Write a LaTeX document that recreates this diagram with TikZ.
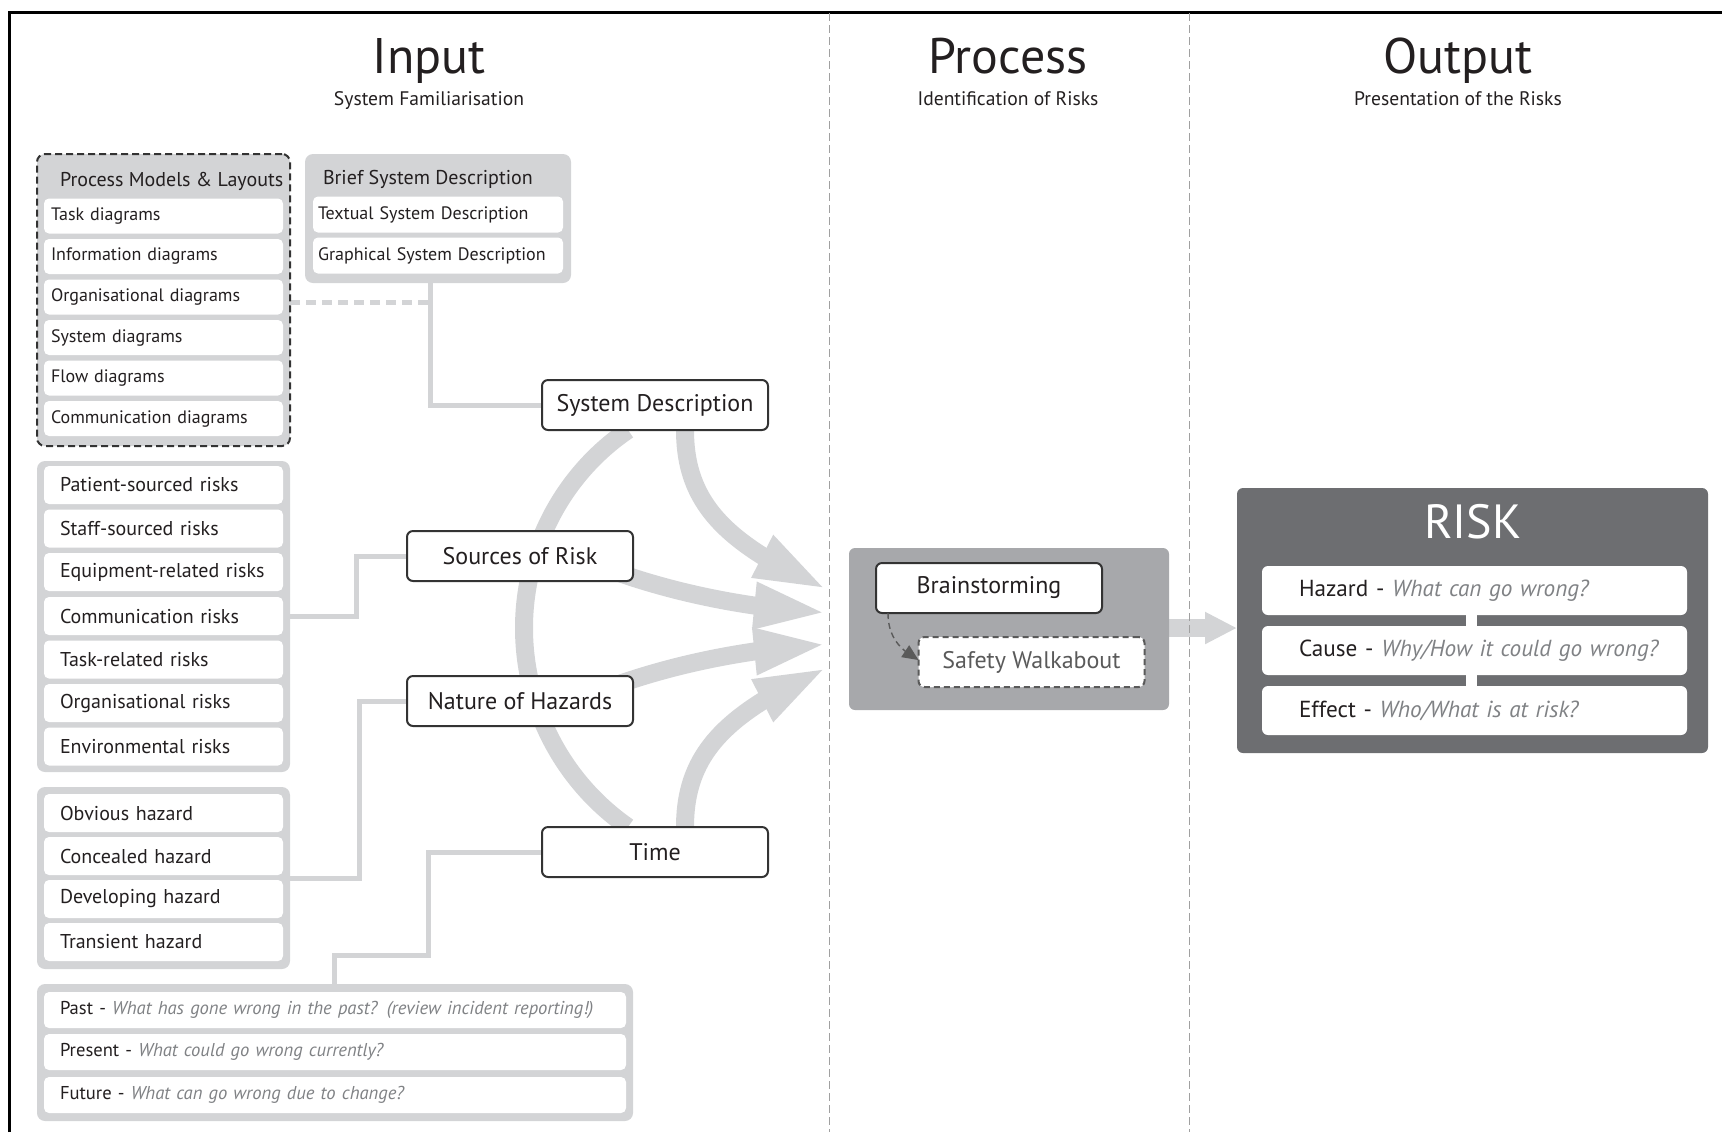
\documentclass[tikz,border=0pt]{standalone}
\usepackage{fontspec}
\setmainfont{PT Sans}
\usetikzlibrary{arrows.meta,bending,calc}
\pgfdeclarelayer{bg}
\pgfsetlayers{bg,main}
\definecolor{cGrp}{HTML}{D3D4D6}
\definecolor{cProc}{HTML}{A7A8AB}
\definecolor{cRisk}{HTML}{6D6E71}
\definecolor{cTxt}{HTML}{231F20}
\definecolor{cIt}{HTML}{808285}
\definecolor{cBorder}{HTML}{333333}
\definecolor{cSep}{HTML}{A0A0A0}
\definecolor{cDash}{HTML}{5A5A5A}
\newcommand{\fsz}[1]{\fontsize{#1}{1.2\dimexpr #1pt\relax}\selectfont}
\begin{document}
\begin{tikzpicture}[x=0.5pt,y=-0.5pt,
  every node/.style={inner sep=0pt, outer sep=0pt, text=cTxt},
  grp/.style={fill=cGrp, rounded corners=4pt},
  itemA/.style={fill=white, rounded corners=2.5pt, minimum height=17.5pt, text width=112.5pt, inner xsep=3.5pt, align=left, font=\fsz{9}},
  itemBr/.style={fill=white, rounded corners=2.5pt, minimum height=18pt, text width=120pt, inner xsep=2.5pt, align=left, font=\fsz{9}},
  itemB/.style={fill=white, rounded corners=2.5pt, minimum height=19pt, text width=103.5pt, inner xsep=8pt, align=left, font=\fsz{10}},
  itemT/.style={fill=white, rounded corners=2.5pt, minimum height=18pt, text width=275pt, inner xsep=8pt, align=left, font=\fsz{9.3}},
  itemR/.style={fill=white, rounded corners=3pt, minimum height=24.5pt, text width=175.5pt, inner xsep=18.5pt, align=left, font=\fsz{11.6}},
  mainbox/.style={draw=cBorder, line width=1pt, fill=white, rounded corners=3pt, minimum width=113pt, minimum height=25pt, font=\fsz{12}},
  conn/.style={draw=cGrp, line width=2.5pt},
  bigarrow/.style={draw=cGrp, line width=9pt, -{Triangle[length=37pt,width=21pt]}},
  sepline/.style={draw=cSep, line width=0.5pt, dash pattern=on 4pt off 2pt},
  title/.style={anchor=base, font=\fsz{25}},
  subtitle/.style={anchor=base, font=\fsz{9.8}},
  hdr/.style={anchor=west, font=\fsz{10}}
]
\useasboundingbox (0,0) rectangle (1722,1132);

% frame and separators
\draw[line width=1.5pt, black] (9,1132) -- (9,12) -- (1722,12);
\draw[sepline] (829,13) -- (829,1132);
\draw[sepline] (1189,13) -- (1189,1132);

% titles
\node[title] (tIn) at (429,73) {Input};
\node[subtitle] (sIn) at (429,105) {System Familiarisation};
\node[title] (tPr) at (1008,73) {Process};
\node[subtitle] (sPr) at (1008,105) {Identification of Risks};
\node[title] (tOut) at (1458,73) {Output};
\node[subtitle] (sOut) at (1458,105) {Presentation of the Risks};

% Process Models & Layouts group
\node[grp, draw=cBorder, line width=1pt, dash pattern=on 3.5pt off 2pt, minimum width=126.5pt, minimum height=146pt] (pm) at (163.5,300) {};
\node[hdr] (pmh) at (60,181) {Process Models \& Layouts};
\node[itemA] (pm1) at (163.5,216) {Task diagrams};
\node[itemA] (pm2) at (163.5,256.5) {Information diagrams};
\node[itemA] (pm3) at (163.5,297) {Organisational diagrams};
\node[itemA] (pm4) at (163.5,337.5) {System diagrams};
\node[itemA] (pm5) at (163.5,378) {Flow diagrams};
\node[itemA] (pm6) at (163.5,418.5) {Communication diagrams};

% Brief System Description group
\node[grp, minimum width=133pt, minimum height=64.5pt] (brief) at (438,218.5) {};
\node[hdr] (briefh) at (323,179) {Brief System Description};
\node[itemBr] (br1) at (438,214.5) {Textual System Description};
\node[itemBr] (br2) at (438,255.5) {Graphical System Description};

% Risk sources group
\node[grp, minimum width=126.5pt, minimum height=155.5pt] (grpRisk) at (163.5,616.5) {};
\node[itemB] (r1) at (163.5,485) {Patient-sourced risks};
\node[itemB] (r2) at (163.5,528.5) {Staff-sourced risks};
\node[itemB] (r3) at (163.5,572) {Equipment-related risks};
\node[itemB] (r4) at (163.5,616) {Communication risks};
\node[itemB] (r5) at (163.5,659.5) {Task-related risks};
\node[itemB] (r6) at (163.5,703) {Organisational risks};
\node[itemB] (r7) at (163.5,746.5) {Environmental risks};

% Hazards group
\node[grp, minimum width=126.5pt, minimum height=91pt] (grpHaz) at (163.5,878) {};
\node[itemB] (h1) at (163.5,813) {Obvious hazard};
\node[itemB] (h2) at (163.5,856) {Concealed hazard};
\node[itemB] (h3) at (163.5,899) {Developing hazard};
\node[itemB] (h4) at (163.5,942) {Transient hazard};

% Time group
\node[grp, minimum width=298pt, minimum height=68.5pt] (grpTime) at (335,1052.5) {};
\node[itemT] (tm1) at (335,1010) {\mbox{Past - {\itshape\color{cIt}What has gone wrong in the past? (review incident reporting!)}}};
\node[itemT] (tm2) at (335,1052) {\mbox{Present - {\itshape\color{cIt}What could go wrong currently?}}};
\node[itemT] (tm3) at (335,1095) {\mbox{Future - {\itshape\color{cIt}What can go wrong due to change?}}};

% main nodes
\node[mainbox] (sd) at (655,405) {System Description};
\node[mainbox] (src) at (520,556) {Sources of Risk};
\node[mainbox] (nat) at (520,701) {Nature of Hazards};
\node[mainbox] (time) at (655,852) {Time};

% process box
\node[fill=cProc, rounded corners=3pt, minimum width=160pt, minimum height=81pt] (proc) at (1009,629) {};
\node[mainbox] (brain) at (989,588) {Brainstorming};
\node[mainbox, draw=cDash, dash pattern=on 3pt off 2pt, text=cDash] (safe) at (1031.5,662) {Safety Walkabout};
\draw[draw=cDash, line width=0.7pt, dash pattern=on 3pt off 2pt, -{Triangle[length=8pt,width=7pt]}]
  ($(brain.south west)+(12,0)$) .. controls +(0,28) and +(-14,-8) .. ($(safe.west)+(0,-2)$);

% risk box
\node[fill=cRisk, rounded corners=3pt, minimum width=235.5pt, minimum height=132.5pt] (risk) at (1472.5,620.5) {};
\node[font=\fsz{24}, text=white] (riskt) at (1473,522) {RISK};
\node[itemR] (rh) at (1474.5,590.5) {\mbox{Hazard - {\itshape\color{cIt}What can go wrong?}}};
\node[itemR] (rc) at (1474.5,650.5) {\mbox{Cause - {\itshape\color{cIt}Why/How it could go wrong?}}};
\node[itemR] (re) at (1474.5,710.5) {\mbox{Effect - {\itshape\color{cIt}Who/What is at risk?}}};
\draw[white, line width=5.5pt] (1471.5,0 |- rh.south) -- (1471.5,0 |- rc.north);
\draw[white, line width=5.5pt] (1471.5,0 |- rc.south) -- (1471.5,0 |- re.north);

% arrow tips
\coordinate (tip1) at (828,590);
\coordinate (tip2) at (828,613);
\coordinate (tip3) at (828,644);
\coordinate (tip4) at (828,667);

\begin{pgfonlayer}{bg}
  % connectors from groups
  \draw[conn, dash pattern=on 5pt off 3pt] (pm.east |- 0,302) -- (432,302);
  \draw[conn] (430,0 |- brief.south) |- (sd.west);
  \draw[conn] (grpRisk.east) -- ++(66,0) |- (src.west);
  \draw[conn] (grpHaz.east) -- ++(69,0) |- (nat.west);
  \draw[conn] (334,0 |- grpTime.north) |- (428,955) |- (time.west);
  % big arc
  \draw[draw=cGrp, line width=9pt] (628,0 |- sd.south) .. controls (562.8,474.2) and (524,548.7) .. (524,628)
     .. controls (524,707.3) and (562.8,781.8) .. (628,0 |- time.north);
  % arrows to process
  \draw[bigarrow] (685,0 |- sd.south) .. controls (685,505) and (728,545) .. (tip1);
  \draw[bigarrow] ($(src.south east)+(-25,-12)$) .. controls (665,590) and (740,608) .. (tip2);
  \draw[bigarrow] ($(nat.north east)+(-25,12)$) .. controls (665,667) and (740,649) .. (tip3);
  \draw[bigarrow] (685,0 |- time.north) .. controls (685,752) and (728,712) .. (tip4);
  % process to risk
  \draw[draw=cGrp, line width=9pt, -{Triangle[length=16pt,width=15pt]}] (proc.east |- 0,628) -- (risk.west |- 0,628);
\end{pgfonlayer}
\end{tikzpicture}
\end{document}
